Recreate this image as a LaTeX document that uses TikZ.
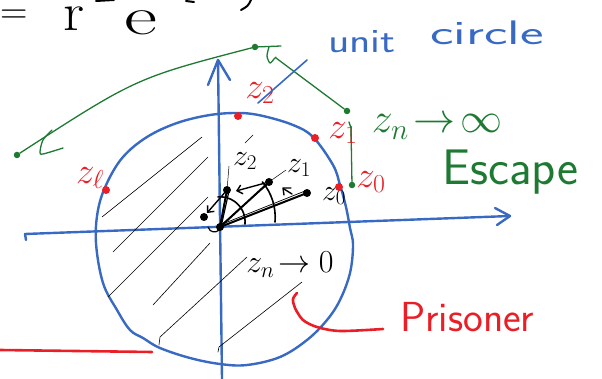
\RequirePackage{fix-cm}
\documentclass[tikz,border=0pt]{standalone}
\usepackage{fontspec}
\usetikzlibrary{arrows.meta}
\definecolor{pblue}{RGB}{56,106,196}
\definecolor{pgreen}{RGB}{30,122,50}
\definecolor{pred}{RGB}{234,30,38}
\begin{document}
\begin{tikzpicture}[x=1pt,y=-1pt,line cap=round,line join=round,
  ax/.style={pblue,line width=2.4pt},
  hatch/.style={black,line width=0.6pt},
  gline/.style={pgreen,line width=1.3pt},
  rline/.style={pred,line width=2.6pt},
  rdot/.style={circle,fill=pred,inner sep=0pt,minimum size=8pt},
  gdot/.style={circle,fill=pgreen,inner sep=0pt,minimum size=6.5pt},
  bdot/.style={circle,fill=black,inner sep=0pt,minimum size=8pt},
  vec/.style={black,line width=2pt},
  thinv/.style={black,line width=0.7pt},
  barb/.style={-{Straight Barb[length=5pt,width=9pt,line width=1.4pt]}},
  lab/.style={inner sep=0pt},
  rlab/.style={lab,pred,font=\fontsize{37}{37}\selectfont},
  klab/.style={lab,black,font=\fontsize{30}{30}\selectfont},
  word/.style={lab,font=\fontsize{34}{34}\sffamily\selectfont},
]
\useasboundingbox (0,0) rectangle (602,379);

% ---------- top formula fragment ----------
\node[lab,anchor=center,font=\fontsize{38}{38}\selectfont] (eq) at (14,17) {=};
\node[lab,anchor=base west,font=\fontsize{54}{54}\selectfont] (rr) at (63,31) {\scalebox{1.1}[1]{r}};
\node[lab,anchor=base west,font=\fontsize{54}{54}\selectfont] (ee) at (124,35) {\scalebox{1.5}[1]{e}};
\draw[black,line width=2pt] (96,1) -- (114,0);
\draw[black,line width=2pt] (186,1) -- (194,2);
\draw[black,line width=2pt] (251,0) .. controls (248,6) .. (241,10);

% ---------- axes ----------
\coordinate (xl) at (25,234);
\coordinate (xr) at (510,216);
\coordinate (yb) at (222,379);
\coordinate (yt) at (218,60);
\draw[ax] (26,240) -- (xl) -- (xr);
\draw[ax] (495,208) -- (xr) -- (497,225);
\draw[ax] (yb) -- (yt);
\draw[ax] (208,85) -- (yt) -- (230,80);

% ---------- unit circle ----------
\draw[ax] plot[smooth cycle,tension=0.6] coordinates {
 (240,113) (263,116) (293,125) (313,137) (333,165) (340,185) (346,207)
 (350,228) (353,245) (350,273) (340,300) (327,320) (307,340) (280,357)
 (247,365) (220,364) (190,358) (160,348) (143,338) (130,330) (117,310)
 (103,283) (96,243) (98,210) (107,183) (123,157) (147,137) (177,123) (210,115)};

% ---------- hatching ----------
\draw[hatch] (202,137) -- (102,217);
\draw[hatch] (208,157) -- (113,252);
\draw[hatch] (208,197) -- (108,297);
\draw[hatch] (210,243) -- (153,305);
\draw[hatch] (247,257) -- (160,337) -- (159,345);
\draw[hatch] (302,282) -- (219,347) -- (218,352);
\draw[hatch] (253,135) -- (245,143);

% ---------- iterates inside ----------
\node[bdot] (O) at (220,227) {};
\node[bdot] (k0) at (307,193) {};
\node[bdot] (k1) at (269,182) {};
\node[bdot] (k2) at (227,190) {};
\node[bdot] (k3) at (204,217) {};
\draw[vec] (O.center) -- (k2.center);
\draw[vec,line width=1.2pt] (221,227) -- (229,191);
\draw[vec] (O.center) -- (k1.center);
\draw[vec] (O.center) -- (k0.center);
\draw[thinv] (220,225) -- (305,191);
\draw[thinv] (220,226) -- (268,184);
\draw[black,line width=1.6pt] (275,222) arc[start angle=-5,end angle=40,radius=55pt];
\draw[black,line width=1.6pt] (245,224) arc[start angle=-5,end angle=95,radius=25pt];
\draw[black,line width=1.2pt] (208,227) .. controls (210,233) and (216,233) .. (219,230);
\draw[black,line width=1.4pt,barb] (k1) -- (236,191);
\draw[black,line width=1.4pt,barb] (k2) -- (207,213);
\coordinate (tip0) at (283,188);
\draw[black,line width=1.4pt] (291,188) -- (tip0) -- (284,195);
\draw[black,line width=1.4pt] (284,189) -- (292,194);

\node[klab] (l2) at (245,161) {$z_2$};
\node[klab] (l1) at (299,168) {$z_1$};
\node[klab] (l0) at (334,196) {$z_0$};
\draw[thinv,line width=0.5pt] (229,166) -- (k2);
\draw[thinv,line width=0.5pt] (286,170) -- (k1);

\node[lab,black,font=\fontsize{32}{32}\selectfont] (zn0) at (290,265) {$z_n\!\to 0$};

% ---------- points on the circle ----------
\node[rdot] (r2) at (238,116) {};
\node[rdot] (r1) at (315,138) {};
\node[rdot] (r0) at (339,187) {};
\node[rdot] (r3) at (106,190) {};
\node[rlab] (lr2) at (260,93) {$z_2$};
\node[rlab] (lr1) at (343,133) {$z_1$};
\node[rlab] (lr0) at (371,182) {$z_0$};
\node[rlab] (lr3) at (90,178) {$z_\ell$};

% ---------- green escaping orbit ----------
\node[gdot] (gA) at (255,47) {};
\node[gdot] (gB) at (17,155) {};
\node[gdot] (gC) at (347,111) {};
\node[gdot] (gD) at (352,185) {};
\draw[gline] (gA) .. controls (136,78) .. (gB);
\draw[gline] plot[smooth] coordinates {(52,130) (43,140) (40,152) (43,154) (63,148)};
\draw[gline] (gA) -- (281,46);
\draw[gline] plot[smooth] coordinates {(269,47) (267,56) (270,63) (274,59) (276,57)};
\draw[gline] (276,58) -- (gC);
\coordinate (gtop) at (349,122);
\draw[gline] (gtop) -- (351,128) -- (gD);
\node[lab,pgreen,font=\fontsize{42}{42}\selectfont] (zinf) at (437,127) {$z_n\!\to\!\infty$};
\node[word,pgreen,anchor=base west,font=\fontsize{50}{50}\sffamily\selectfont] (esc) at (442,185) {Escape};

% ---------- unit circle label ----------
\node[word,pblue,anchor=base west] (unit) at (328,53) {\scalebox{1.3}[1]{unit}};
\node[word,pblue,anchor=base west] (circ) at (430,45) {\scalebox{1.65}[1]{circle}};
\coordinate (pu) at (307,60);
\coordinate (pc) at (258,103);
\draw[pblue,line width=1.6pt] (pu) -- (pc);

% ---------- prisoner ----------
\node[word,pred,anchor=base west,font=\fontsize{42}{42}\sffamily\selectfont] (pris) at (400,331) {Prisoner};
\coordinate (ps) at (297,293);
\coordinate (pe) at (383,329);
\draw[rline] plot[smooth] coordinates {(ps) (293,299) (295,308) (303,320) (317,327) (340,331) (pe)};
\coordinate (hl) at (0,350);
\coordinate (hr) at (152,352);
\draw[rline] (hl) -- (hr);
\end{tikzpicture}
\end{document}
